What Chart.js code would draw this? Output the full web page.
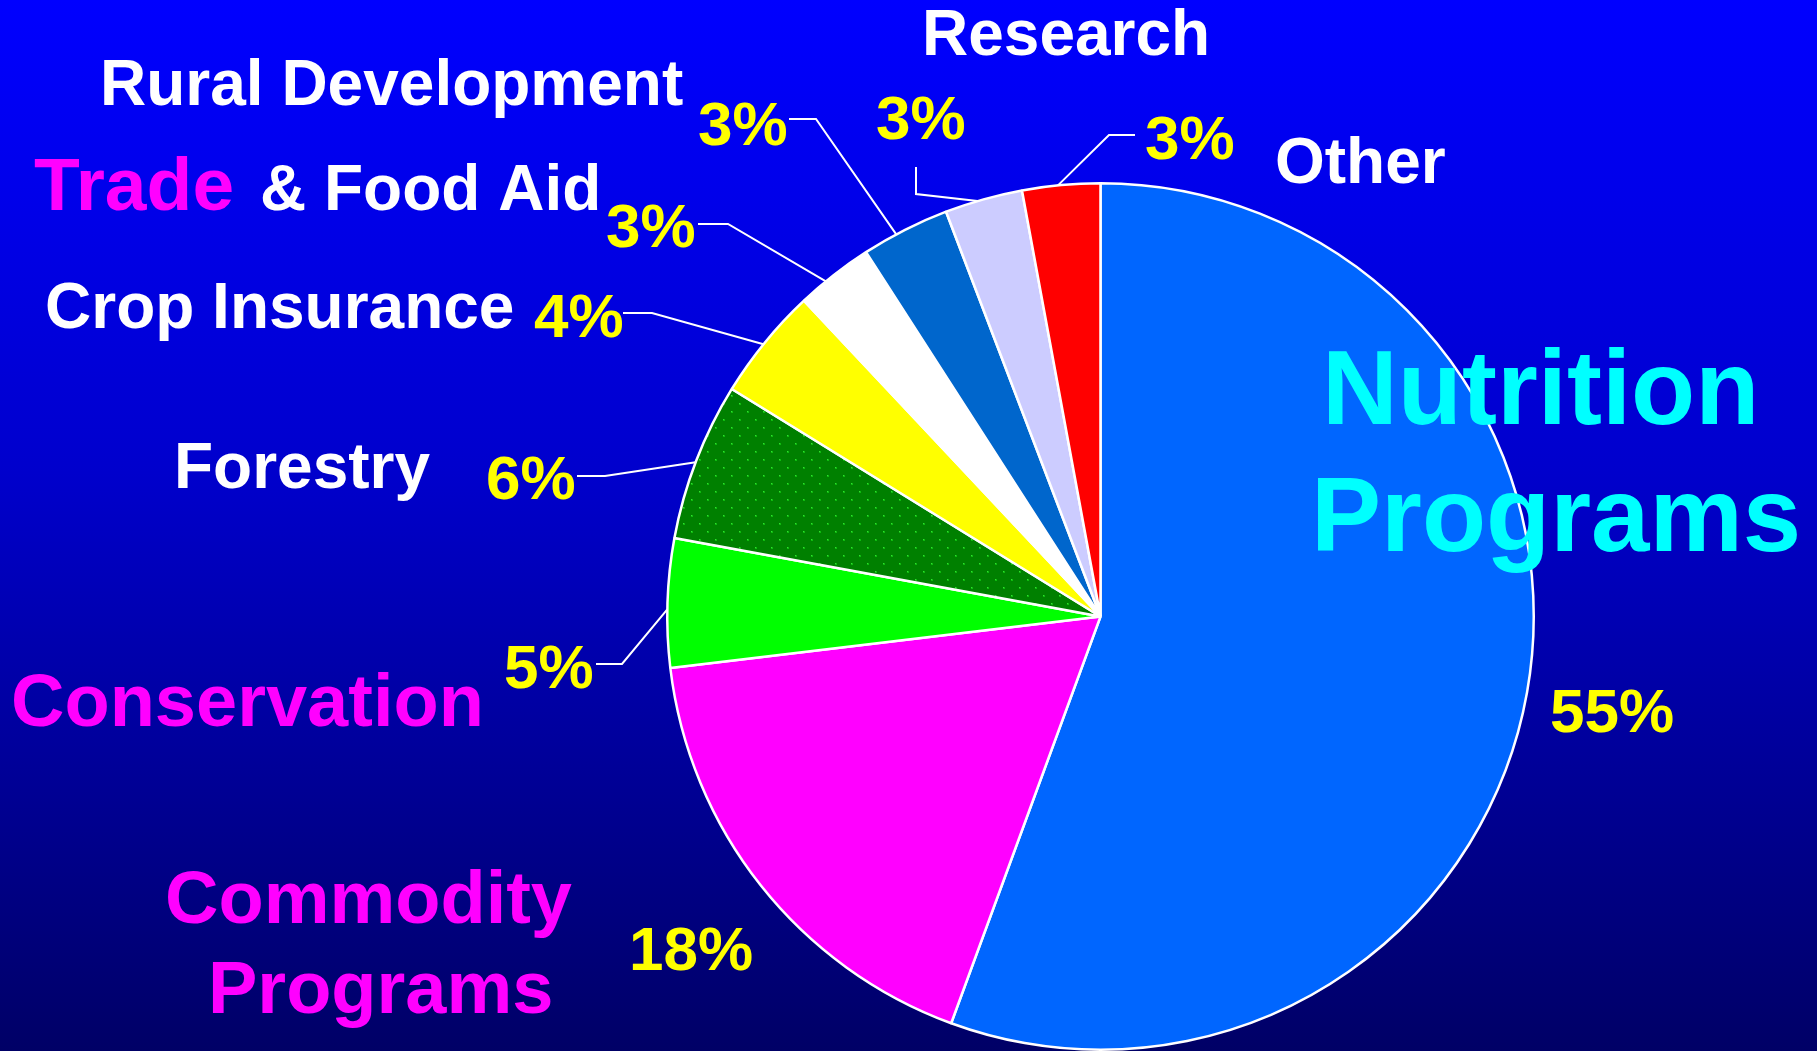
<!DOCTYPE html>
<html>
<head>
<meta charset="utf-8">
<script src="https://cdn.jsdelivr.net/npm/chart.js@4.4.1/dist/chart.umd.min.js"></script>
<style>
  html, body { margin:0; padding:0; width:1817px; height:1051px; overflow:hidden; background:#000066; }
  #bg { position:absolute; left:0; top:0; width:1817px; height:1051px;
        background:linear-gradient(to bottom, #0000ff 0%, #0000cc 45%, #000066 100%); }
  #wrap { position:absolute; left:0; top:0; width:1817px; height:1060px; }
</style>
</head>
<body>
<div id="bg"></div>
<div id="wrap"><canvas id="c"></canvas></div>
<script>
// ---- data ----
const categories = ['Nutrition Programs', 'Commodity Programs', 'Conservation', 'Forestry',
                    'Crop Insurance', 'Trade & Food Aid', 'Rural Development', 'Research', 'Other'];
const shares = [55.6, 17.5, 4.8, 5.9, 4.2, 2.9, 3.3, 2.9, 2.9];
const percentLabels = ['55%', '18%', '5%', '6%', '4%', '3%', '3%', '3%', '3%'];

// ---- styles ----
function dotPattern() {
  const t = document.createElement('canvas');
  t.width = 16; t.height = 16;
  const g = t.getContext('2d');
  g.fillStyle = '#008000'; g.fillRect(0, 0, 16, 16);
  g.fillStyle = '#10b810';
  g.fillRect(3, 3, 2, 2);
  g.fillRect(11, 11, 2, 2);
  g.fillStyle = '#30e030';
  g.fillRect(3, 3, 1, 1);
  g.fillRect(11, 11, 1, 1);
  return document.createElement('canvas').getContext('2d').createPattern(t, 'repeat');
}
const sliceColors = ['#0066ff', '#ff00ff', '#00ff00', dotPattern(), '#ffff00',
                     '#ffffff', '#0066cc', '#ccccff', '#ff0000'];

const FONT = "'Liberation Sans', Arial, sans-serif";

// category label pieces (text from categories)
const catPieces = [
  {text: 'Nutrition', x: 1322, y: 424, size: 105, color: '#00ffff'},
  {text: 'Programs', x: 1311, y: 551, size: 105, color: '#00ffff'},
  {text: 'Commodity', x: 165, y: 923, size: 74, color: '#ff00ff'},
  {text: 'Programs', x: 208, y: 1013, size: 74, color: '#ff00ff'},
  {text: categories[2], x: 11, y: 726, size: 74, color: '#ff00ff'},
  {text: categories[3], x: 174, y: 488, size: 64, color: '#ffffff'},
  {text: categories[4], x: 45, y: 328, size: 64, color: '#ffffff'},
  {text: 'Trade', x: 34, y: 210, size: 75, color: '#ff00ff'},
  {text: '& Food Aid', x: 260, y: 210, size: 64, color: '#ffffff'},
  {text: categories[6], x: 100, y: 105, size: 64, color: '#ffffff'},
  {text: categories[7], x: 922, y: 55, size: 64, color: '#ffffff'},
  {text: categories[8], x: 1275, y: 183, size: 64, color: '#ffffff'}
];

// percent label placement [x, baseline]
const pctPos = [[1550, 732], [629, 970], [504, 688], [486, 499], [534, 337],
                [606, 247], [698, 145], [876, 139], [1145, 159]];

// leader lines: slice index, fraction along arc, points from label
const leaders = [
  {i: 2, f: 0.45, pts: [[596, 664], [622, 664]]},
  {i: 3, f: 0.49, pts: [[577, 476], [605, 476]]},
  {i: 4, f: 0.48, pts: [[623, 313], [652, 313]]},
  {i: 5, f: 0.37, pts: [[698, 224], [728, 224]]},
  {i: 6, f: 0.39, pts: [[789, 119], [816, 119]]},
  {i: 7, f: 0.42, pts: [[916, 167], [916, 194]]},
  {i: 8, f: 0.46, pts: [[1135, 135], [1109, 135]]}
];

const labelPlugin = {
  id: 'labelPlugin',
  afterDatasetsDraw(chart) {
    const ctx = chart.ctx;
    const meta = chart.getDatasetMeta(0);
    ctx.save();
    ctx.strokeStyle = '#ffffff';
    ctx.lineWidth = 2;
    leaders.forEach(L => {
      const p = meta.data[L.i].getProps(['x', 'y', 'startAngle', 'endAngle', 'outerRadius'], true);
      const a = p.startAngle + L.f * (p.endAngle - p.startAngle);
      const ex = p.x + Math.cos(a) * p.outerRadius;
      const ey = p.y + Math.sin(a) * p.outerRadius;
      ctx.beginPath();
      ctx.moveTo(L.pts[0][0], L.pts[0][1]);
      for (let k = 1; k < L.pts.length; k++) ctx.lineTo(L.pts[k][0], L.pts[k][1]);
      ctx.lineTo(ex, ey);
      ctx.stroke();
    });
    ctx.textAlign = 'left';
    ctx.textBaseline = 'alphabetic';
    catPieces.forEach(t => {
      ctx.font = 'bold ' + t.size + 'px ' + FONT;
      ctx.fillStyle = t.color;
      ctx.fillText(t.text, t.x, t.y);
    });
    ctx.font = 'bold 62px ' + FONT;
    ctx.fillStyle = '#ffff00';
    percentLabels.forEach((s, i) => ctx.fillText(s, pctPos[i][0], pctPos[i][1]));
    ctx.restore();
  }
};

new Chart(document.getElementById('c'), {
  type: 'pie',
  data: {
    labels: categories,
    datasets: [{
      data: shares,
      backgroundColor: sliceColors,
      borderColor: '#ffffff',
      borderWidth: 2.5
    }]
  },
  options: {
    responsive: true,
    maintainAspectRatio: false,
    animation: false,
    layout: { padding: { left: 666, right: 282, top: 182, bottom: 9 } },
    plugins: { legend: { display: false }, tooltip: { enabled: false } }
  },
  plugins: [labelPlugin]
});
</script>
</body>
</html>
